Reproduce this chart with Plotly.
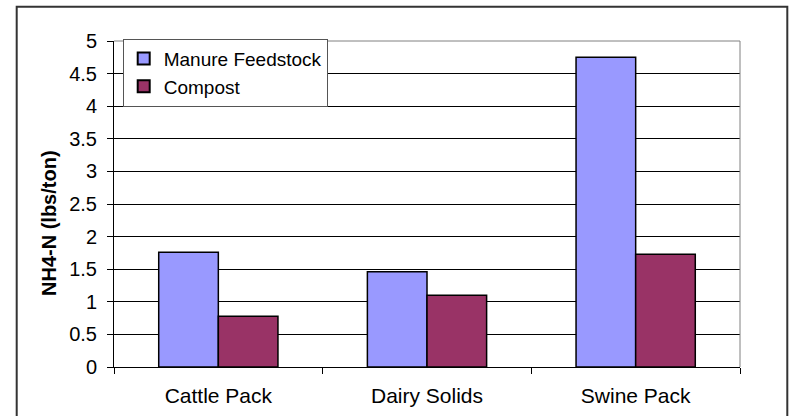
import plotly.graph_objects as go

# NH4-N content of manure feedstocks and the resulting composts
categories = ["Cattle Pack", "Dairy Solids", "Swine Pack"]
manure_feedstock = [1.76, 1.46, 4.75]
compost = [0.78, 1.10, 1.73]
y_ticks = [0, 0.5, 1, 1.5, 2, 2.5, 3, 3.5, 4, 4.5, 5]
y_tick_text = ["0", "0.5", "1", "1.5", "2", "2.5", "3", "3.5", "4", "4.5", "5"]
y_title = "NH4-N (lbs/ton)"

FONT = "Liberation Sans, Arial, sans-serif"

fig = go.Figure()
fig.add_trace(go.Bar(
    name="Manure Feedstock", x=categories, y=manure_feedstock,
    marker=dict(color="#9999FF", line=dict(color="#000000", width=1.5)),
))
fig.add_trace(go.Bar(
    name="Compost", x=categories, y=compost,
    marker=dict(color="#993366", line=dict(color="#000000", width=1.5)),
))

# plot-area geometry in pixels (used to place the frame, legend and title in paper units)
W, H = 790, 416
L, R, T, B = 114, 50, 41, 49
pw, ph = W - L - R, H - T - B


def px_to_paper_x(px):
    return (px - L) / pw


def px_to_paper_y(py):
    return (H - B - py) / ph


fig.update_layout(
    width=W, height=H,
    margin=dict(l=L, r=R, t=T, b=B, pad=0, autoexpand=False),
    paper_bgcolor="white", plot_bgcolor="white",
    barmode="group", bargap=0.4286, bargroupgap=0,
    font=dict(family=FONT, color="#000000"),
    showlegend=True,
    legend=dict(
        x=px_to_paper_x(122.7), y=px_to_paper_y(38.7),
        xanchor="left", yanchor="top",
        bgcolor="white", bordercolor="#555555", borderwidth=1,
        font=dict(size=19, family=FONT, color="#000000"),
        itemsizing="constant",
    ),
    xaxis=dict(
        type="category", tickson="boundaries",
        showline=True, linecolor="#000000", linewidth=1,
        ticks="outside", ticklen=6, tickcolor="#000000", tickwidth=1,
        showgrid=False, zeroline=False,
        tickfont=dict(size=21, family=FONT, color="#000000"),
        ticklabelstandoff=10,
        automargin=False,
        fixedrange=True,
    ),
    yaxis=dict(
        range=[0, 5], tickvals=y_ticks, ticktext=y_tick_text,
        showline=True, linecolor="#000000", linewidth=1,
        ticks="outside", ticklen=6, tickcolor="#000000", tickwidth=1,
        showgrid=True, gridcolor="#000000", gridwidth=1,
        zeroline=False,
        tickfont=dict(size=20, family=FONT, color="#000000"),
        ticklabelstandoff=6,
        automargin=False,
        fixedrange=True,
    ),
    annotations=[
        dict(text="<b>" + y_title + "</b>", textangle=-90,
             xref="paper", yref="paper",
             x=px_to_paper_x(49), y=px_to_paper_y(223),
             xanchor="center", yanchor="middle", showarrow=False,
             font=dict(size=20, family=FONT, color="#000000")),
    ],
    shapes=[
        # grey frame on the top and right of the plotting area
        dict(type="line", xref="paper", yref="paper", x0=0, x1=1, y0=1, y1=1,
             line=dict(color="#808080", width=1), layer="above"),
        dict(type="line", xref="paper", yref="paper", x0=1, x1=1, y0=0, y1=1,
             line=dict(color="#808080", width=1), layer="above"),
        # chart border
        dict(type="rect", xref="paper", yref="paper",
             x0=px_to_paper_x(16.7), x1=px_to_paper_x(787.3),
             y0=px_to_paper_y(430), y1=px_to_paper_y(6.7),
             line=dict(color="#333333", width=2), fillcolor="rgba(0,0,0,0)",
             layer="above"),
    ],
)

fig.write_html("out.html")
